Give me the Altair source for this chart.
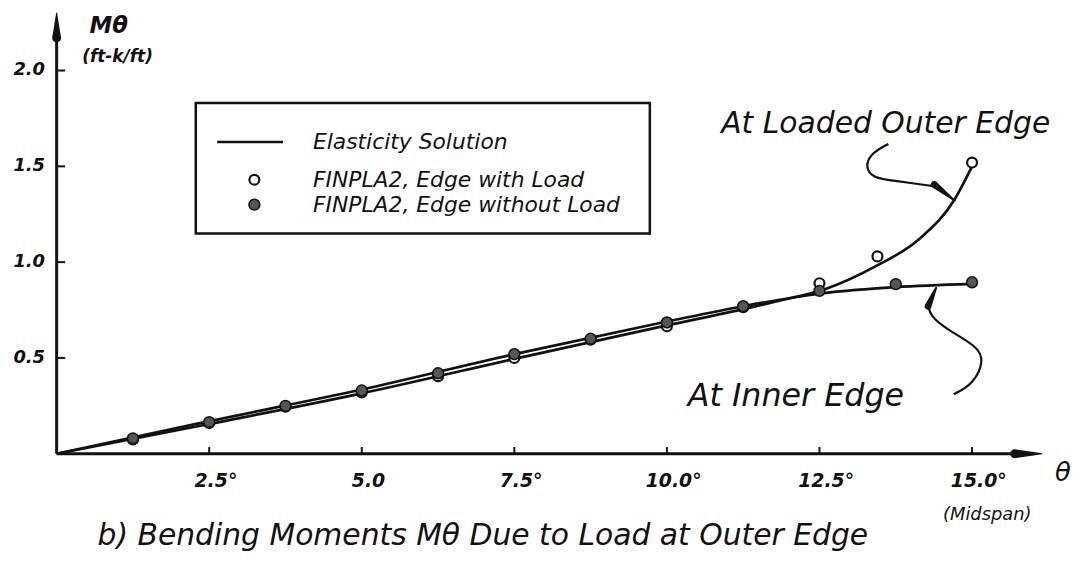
import altair as alt
import pandas as pd

# ---------------- data ----------------
# FINPLA2 results (every 1.25 deg)
theta_without = [1.25, 2.5, 3.75, 5.0, 6.25, 7.5, 8.75, 10.0, 11.25, 12.5, 13.75, 15.0]
m_without_load = [0.08, 0.165, 0.25, 0.33, 0.42, 0.52, 0.60, 0.685, 0.77, 0.85, 0.885, 0.895]
theta_with = [1.25, 2.5, 3.75, 5.0, 6.25, 7.5, 8.75, 10.0, 11.25, 12.5, 13.45, 15.0]
m_with_load = [0.075, 0.16, 0.245, 0.32, 0.405, 0.50, 0.595, 0.665, 0.765, 0.89, 1.03, 1.52]

# Elasticity solution curves
elas_inner_theta = [0, 2.5, 5.0, 7.5, 10.0, 11.25, 12.5, 13.1, 13.75, 15.0]
elas_inner_m = [0, 0.17, 0.335, 0.52, 0.69, 0.77, 0.835, 0.855, 0.87, 0.887]
elas_outer_theta = [0, 2.5, 5.0, 7.5, 10.0, 11.25, 12.0, 12.6, 13.4, 14.15, 14.7, 15.0]
elas_outer_m = [0, 0.155, 0.315, 0.495, 0.67, 0.755, 0.81, 0.86, 0.975, 1.125, 1.32, 1.5]

# axis ticks
x_tick_values = [2.5, 5.0, 7.5, 10.0, 12.5, 15.0]
x_tick_labels = ["2.5°", "5.0", "7.5°", "10.0°", "12.5°", "15.0°"]
y_tick_values = [0.5, 1.0, 1.5, 2.0]
y_tick_labels = ["0.5", "1.0", "1.5", "2.0"]

# legend
legend_labels = ["Elasticity Solution", "FINPLA2, Edge with Load", "FINPLA2, Edge without Load"]

# annotation leader curves (data space)
lead_outer_x = [13.63, 13.33, 13.25, 13.38, 13.71, 14.41]
lead_outer_y = [1.617, 1.565, 1.492, 1.44, 1.425, 1.395]
lead_inner_x = [14.70, 15.02, 15.20, 15.09, 14.59, 14.31, 14.28]
lead_inner_y = [0.311, 0.363, 0.487, 0.56, 0.648, 0.72, 0.78]

FONT = "DejaVu Sans"
INK = "#111111"

xscale = alt.Scale(domain=[0, 16.15], nice=False, zero=False)
yscale = alt.Scale(domain=[0, 2.3], nice=False, zero=False)


def X():
    return alt.X("x:Q", scale=xscale, axis=None)


def Y():
    return alt.Y("y:Q", scale=yscale, axis=None)


# elasticity curves
curves = pd.DataFrame(
    [{"x": a, "y": b, "c": "inner"} for a, b in zip(elas_inner_theta, elas_inner_m)]
    + [{"x": a, "y": b, "c": "outer"} for a, b in zip(elas_outer_theta, elas_outer_m)]
)
curve_layer = alt.Chart(curves).mark_line(color=INK, strokeWidth=2.7, interpolate="monotone").encode(
    x=X(), y=Y(), detail="c:N"
)

# axis lines
axes_df = pd.DataFrame([
    {"x": 0, "y": 0, "x2": 15.9, "y2": 0},
    {"x": 0, "y": 0, "x2": 0, "y2": 2.2},
])
axis_lines = alt.Chart(axes_df).mark_rule(color=INK, strokeWidth=3).encode(
    x=X(), y=Y(), x2="x2:Q", y2="y2:Q"
)

# arrow heads (tapered trails)
arrows_df = pd.DataFrame([
    {"x": 15.7, "y": 0, "w": 9, "o": 0, "g": "xa"},
    {"x": 16.15, "y": 0, "w": 1, "o": 1, "g": "xa"},
    {"x": 0, "y": 2.17, "w": 9, "o": 0, "g": "ya"},
    {"x": 0, "y": 2.3, "w": 1, "o": 1, "g": "ya"},
    {"x": 14.38, "y": 1.405, "w": 7, "o": 0, "g": "la"},
    {"x": 14.72, "y": 1.32, "w": 1.5, "o": 1, "g": "la"},
    {"x": 14.28, "y": 0.77, "w": 7, "o": 0, "g": "ia"},
    {"x": 14.41, "y": 0.865, "w": 2, "o": 1, "g": "ia"},
])
arrow_layer = alt.Chart(arrows_df).mark_trail(color=INK).encode(
    x=X(), y=Y(), size=alt.Size("w:Q", scale=None, legend=None),
    order="o:Q", detail="g:N"
)

# tick marks
xt = pd.DataFrame({"x": x_tick_values, "y": [0] * len(x_tick_values), "y2": [0.035] * len(x_tick_values)})
xtick_layer = alt.Chart(xt).mark_rule(color=INK, strokeWidth=2).encode(x=X(), y=Y(), y2="y2:Q")
yt = pd.DataFrame({"y": y_tick_values, "x": [0] * len(y_tick_values), "x2": [0.14] * len(y_tick_values)})
ytick_layer = alt.Chart(yt).mark_rule(color=INK, strokeWidth=2).encode(x=X(), x2="x2:Q", y=Y())

# tick labels
xl = pd.DataFrame({"x": [v + 0.11 for v in x_tick_values], "y": [-0.145] * len(x_tick_values),
                   "t": x_tick_labels})
xlab_layer = alt.Chart(xl).mark_text(align="center", baseline="middle", font=FONT, fontSize=19,
                                     fontStyle="italic", fontWeight="bold", color=INK).encode(
    x=X(), y=Y(), text="t:N")
yl = pd.DataFrame({"x": [-0.19] * len(y_tick_values), "y": y_tick_values, "t": y_tick_labels})
ylab_layer = alt.Chart(yl).mark_text(align="right", baseline="middle", font=FONT, fontSize=18,
                                     fontStyle="italic", fontWeight="bold", color=INK).encode(
    x=X(), y=Y(), text="t:N")

# data points
open_df = pd.DataFrame({"x": theta_with, "y": m_with_load})
open_layer = alt.Chart(open_df).mark_point(shape="circle", filled=True, fill="white", stroke=INK,
                                           strokeWidth=2.2, size=100, opacity=1).encode(x=X(), y=Y())
filled_df = pd.DataFrame({"x": theta_without, "y": m_without_load})
filled_layer = alt.Chart(filled_df).mark_point(shape="circle", filled=True, fill="#555555", stroke=INK,
                                               strokeWidth=1.5, size=120, opacity=1).encode(x=X(), y=Y())

# leader lines
lead_df = pd.DataFrame(
    [{"x": a, "y": b, "o": i, "g": "outer"} for i, (a, b) in enumerate(zip(lead_outer_x, lead_outer_y))]
    + [{"x": a, "y": b, "o": i, "g": "inner"} for i, (a, b) in enumerate(zip(lead_inner_x, lead_inner_y))]
)
lead_layer = alt.Chart(lead_df).mark_line(color=INK, strokeWidth=2.2, interpolate="basis").encode(
    x=X(), y=Y(), order="o:Q", detail="g:N"
)

# legend box
box_df = pd.DataFrame([{"x": 2.28, "x2": 9.72, "y": 1.15, "y2": 1.83}])
box_layer = alt.Chart(box_df).mark_rect(fillOpacity=0, stroke=INK, strokeWidth=2.5).encode(
    x=X(), x2="x2:Q", y=Y(), y2="y2:Q"
)
leg_line_df = pd.DataFrame([{"x": 2.63, "x2": 3.71, "y": 1.627}])
leg_line = alt.Chart(leg_line_df).mark_rule(color=INK, strokeWidth=2.5).encode(x=X(), x2="x2:Q", y=Y())
leg_open = alt.Chart(pd.DataFrame([{"x": 3.24, "y": 1.43}])).mark_point(
    shape="circle", filled=True, fill="white", stroke=INK, strokeWidth=2.2, size=100, opacity=1
).encode(x=X(), y=Y())
leg_fill = alt.Chart(pd.DataFrame([{"x": 3.24, "y": 1.30}])).mark_point(
    shape="circle", filled=True, fill="#555555", stroke=INK, strokeWidth=1.5, size=120, opacity=1
).encode(x=X(), y=Y())
leg_text_df = pd.DataFrame({"x": [4.2, 4.2, 4.2], "y": [1.627, 1.43, 1.30], "t": legend_labels})
leg_text = alt.Chart(leg_text_df).mark_text(align="left", baseline="middle", font=FONT, fontSize=22,
                                            fontStyle="italic", color=INK).encode(x=X(), y=Y(), text="t:N")


def label(x, y, t, size, align="left", weight="normal"):
    return alt.Chart(pd.DataFrame([{"x": x, "y": y, "t": t}])).mark_text(
        align=align, baseline="middle", font=FONT, fontSize=size, fontStyle="italic",
        fontWeight=weight, color=INK
    ).encode(x=X(), y=Y(), text="t:N")


texts = [
    label(0.54, 2.23, "Mθ", 23, weight="bold"),
    label(0.42, 2.07, "(ft-k/ft)", 17, weight="bold"),
    label(16.49, -0.10, "θ", 26, "center"),
    label(15.25, -0.32, "(Midspan)", 18, "center"),
    label(10.89, 1.72, "At Loaded Outer Edge", 30),
    label(10.34, 0.30, "At Inner Edge", 32),
    label(0.67, -0.43, "b) Bending Moments Mθ Due to Load at Outer Edge", 30),
]

chart = alt.layer(
    curve_layer, axis_lines, arrow_layer, xtick_layer, ytick_layer, xlab_layer, ylab_layer, lead_layer,
    open_layer, filled_layer, box_layer, leg_line, leg_open, leg_fill, leg_text, *texts
).properties(
    width=993, height=444,
    autosize=alt.AutoSizeParams(type="none"),
    padding={"left": 49, "top": 3, "right": 31, "bottom": 110},
).configure_view(stroke=None)

chart.save("out.html", embed_options={"renderer": "svg", "actions": False})
